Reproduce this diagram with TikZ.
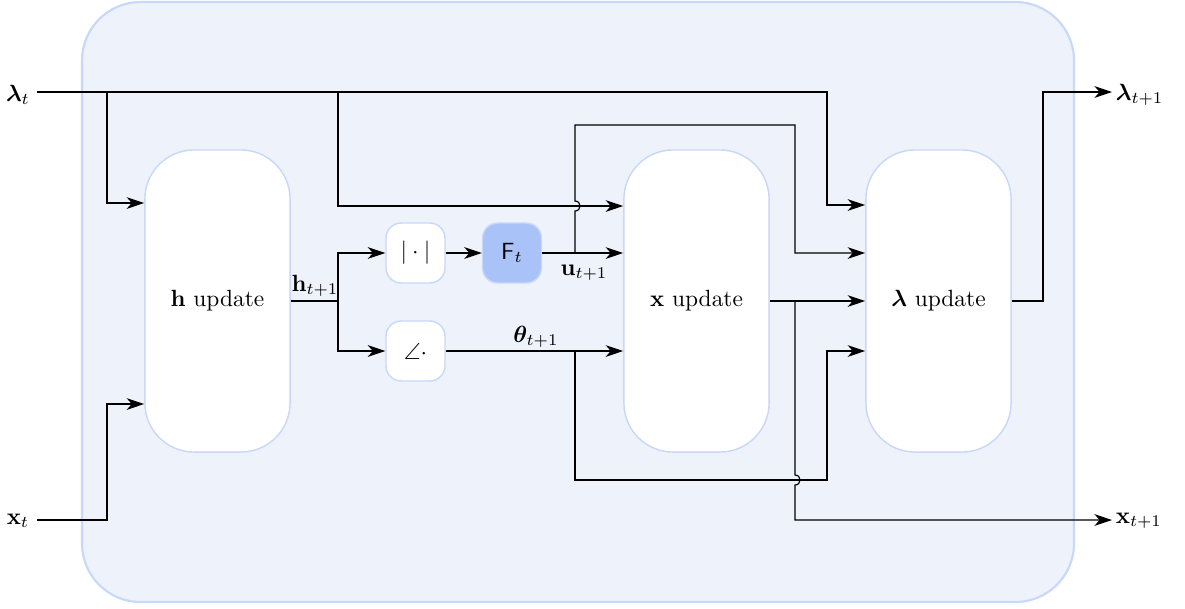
\documentclass[tikz,border=0pt]{standalone}
\usepackage{amsmath,amssymb,bm}
\usetikzlibrary{arrows.meta}
\definecolor{bgfill}{HTML}{EDF2FB}
\definecolor{bgline}{HTML}{C8D8F8}
\definecolor{ffill}{HTML}{A9C2F8}
\begin{document}
\begin{tikzpicture}[x=0.427pt,y=-0.427pt,
  wire/.style={line width=0.5pt,black},
  arr/.style={wire,-{Stealth[length=7.5pt,width=5pt,inset=2.2pt]}},
  bigbox/.style={draw=bgline,line width=0.6pt,fill=white,rounded corners=21pt,
    minimum width=62pt,minimum height=129pt,inner sep=0pt},
  smallbox/.style={draw=bgline,line width=0.6pt,fill=white,rounded corners=6.5pt,
    minimum width=25.2pt,minimum height=25.6pt,inner sep=0pt},
  lbl/.style={inner sep=1pt}]
\useasboundingbox (0,0) rectangle (1185,608);
\draw[bgline,fill=bgfill,line width=0.9pt,rounded corners=25pt] (82,2) rectangle (1074,602);

% nodes
\node[bigbox] (hup) at (217.5,301) {$\mathbf{h}$ update};
\node[bigbox] (xup) at (696.5,301) {$\mathbf{x}$ update};
\node[bigbox] (lup) at (938.5,301) {$\boldsymbol{\lambda}$ update};
\node[smallbox] (abs) at (415.5,253) {$|\cdot|$};
\node[smallbox] (ang) at (415.5,351) {$\angle\cdot$};
\node[smallbox,fill=ffill] (F) at (512,253) {$\mathsf{F}_t$};

% labels
\node[lbl] (lt) at (18,95) {$\boldsymbol{\lambda}_t$};
\node[lbl] (xt) at (18,521) {$\mathbf{x}_t$};
\node[lbl,anchor=west] (lt1) at (1113,95) {$\boldsymbol{\lambda}_{t+1}$};
\node[lbl,anchor=west] (xt1) at (1113,521) {$\mathbf{x}_{t+1}$};
\node[lbl] (hl) at (315,286) {$\mathbf{h}_{t+1}$};
\node[lbl] (ul) at (584,273) {$\mathbf{u}_{t+1}$};
\node[lbl] (tl) at (536,337) {$\boldsymbol{\theta}_{t+1}$};

% coordinates
\coordinate (ltS) at (37,92);
\coordinate (a1) at (827,205);
\coordinate (b1) at (107,92);
\coordinate (b2) at (107,203);
\coordinate (b3) at (338,92);
\coordinate (b4) at (338,206);
\coordinate (xtS) at (37,520);
\coordinate (b5) at (107,404);
\coordinate (b6) at (338,301);
\coordinate (b7) at (575,253);
\coordinate (h1a) at (575,211);
\coordinate (h1b) at (575,201);
\coordinate (c1) at (575,125);
\coordinate (c2) at (795,253);
\coordinate (b8) at (575,351);
\coordinate (c3) at (575,480);
\coordinate (c4) at (827,351);
\coordinate (b9) at (795,301);
\coordinate (h2a) at (795,475);
\coordinate (h2b) at (795,485);
\coordinate (c5) at (795,520);
\coordinate (xtE) at (1112,520);
\coordinate (c6) at (1043,92);
\coordinate (ltE) at (1112,92);

% connectors
\draw[arr] (ltS) -| (a1) -- (lup.west |- a1);
\draw[arr] (b1) -- (b2) -- (hup.west |- b2);
\draw[arr] (b3) -- (b4) -- (xup.west |- b4);
\draw[arr] (xtS) -| (b5) -- (hup.west |- b5);
\draw[wire] (hup.east) -- (b6);
\draw[arr] (b6) |- (abs.west);
\draw[arr] (b6) |- (ang.west);
\draw[arr] (abs.east) -- (F.west);
\draw[arr] (F.east) -- (xup.west |- F.east);
\draw[arr] (ang.east) -- (xup.west |- ang.east);
\draw[arr] (b7) -- (h1a) .. controls (581.7,211) and (581.7,201) .. (h1b) -- (c1) -| (c2) -- (lup.west |- c2);
\draw[arr] (b8) -- (c3) -| (c4) -- (lup.west |- c4);
\draw[arr] (xup.east) -- (lup.west);
\draw[arr] (b9) -- (h2a) .. controls (801.7,475) and (801.7,485) .. (h2b) -- (c5) -- (xtE);
\draw[arr] (lup.east) -| (c6) -- (ltE);
\end{tikzpicture}
\end{document}
